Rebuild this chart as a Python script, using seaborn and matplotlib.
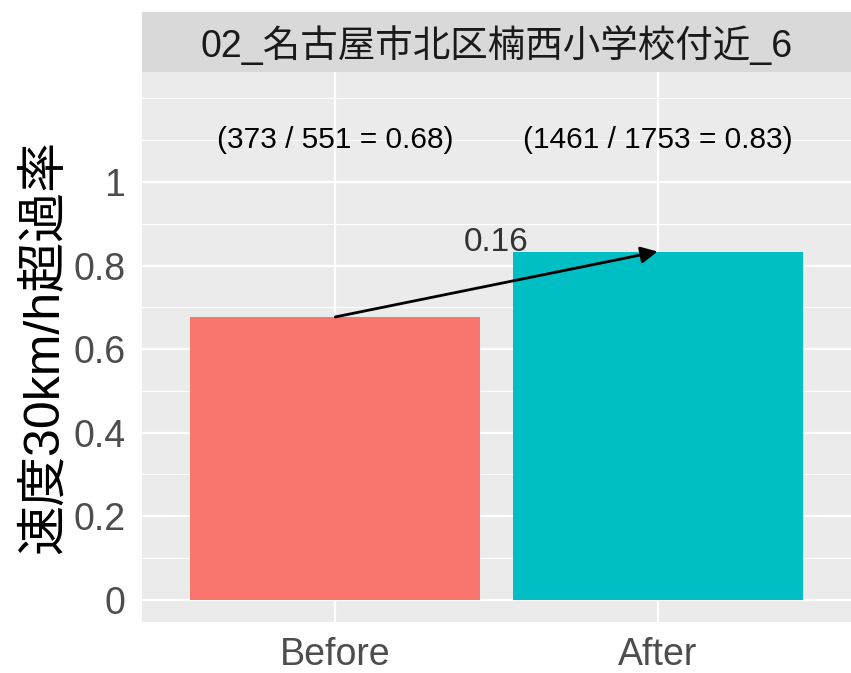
import seaborn as sns
import matplotlib.pyplot as plt
import pandas as pd
from matplotlib.ticker import MultipleLocator

# data
periods = ["Before", "After"]
over_counts = [373, 1461]
total_counts = [551, 1753]
bar_colors = ["#F8766D", "#00BFC4"]
facet_title = "02_名古屋市北区楠西小学校付近_6"
y_label = "速度30km/h超過率"
y_ticks = [0, 0.2, 0.4, 0.6, 0.8, 1.0]
y_tick_labels = ["0", "0.2", "0.4", "0.6", "0.8", "1"]

rates = [o / t for o, t in zip(over_counts, total_counts)]
df = pd.DataFrame({"period": periods, "rate": rates})

sns.set_theme(style="darkgrid")
plt.rcParams["font.family"] = ["Liberation Sans", "Noto Sans CJK JP", "DejaVu Sans"]

fig = plt.figure(figsize=(8.51, 6.73), dpi=100)
W, H = 851, 673
ax = fig.add_axes([142 / W, 1 - 622 / H, (851 - 142) / W, (622 - 72) / H])
strip = fig.add_axes([142 / W, 1 - 72 / H, (851 - 142) / W, 60 / H])

ax.set_facecolor("#EBEBEB")
sns.barplot(data=df, x="period", y="rate", hue="period", palette=bar_colors,
            width=0.9, saturation=1, legend=False, linewidth=0, ax=ax)

ax.set_xlim(-0.6, 1.6)
ax.set_ylim(-0.053, 1.263)

# gridlines like ggplot
ax.set_yticks(y_ticks)
ax.set_yticklabels(y_tick_labels)
ax.yaxis.set_minor_locator(MultipleLocator(0.1))
ax.grid(which="major", color="white", linewidth=1.6)
ax.grid(which="minor", axis="y", color="white", linewidth=0.8)
ax.set_axisbelow(True)
for s in ax.spines.values():
    s.set_visible(False)

ax.tick_params(axis="both", which="major", length=6, width=1.2, color="#333333",
               labelcolor="#4D4D4D", labelsize=27)
ax.tick_params(axis="x", which="major", pad=5)
ax.tick_params(axis="y", which="major", pad=6)
ax.tick_params(axis="y", which="minor", length=0)
ax.set_xlabel("")
ax.set_ylabel(y_label, fontsize=36, color="black", labelpad=4)

# count annotations
for i, (o, t, r) in enumerate(zip(over_counts, total_counts, rates)):
    ax.text(i, 1.1, f"({o} / {t} = {r:.2f})", ha="center", va="center",
            fontsize=21.5, color="black")

# arrow showing the change
ax.annotate("", xy=(1, rates[1]), xytext=(0, rates[0]),
            arrowprops=dict(arrowstyle="-|>", color="black", lw=2,
                            mutation_scale=25, shrinkA=0, shrinkB=0))
ax.text(0.5, 0.855, f"{rates[1] - rates[0]:.2f}", ha="center", va="center",
        fontsize=24, color="#333333")

# facet strip
strip.set_facecolor("#D9D9D9")
strip.set_xticks([])
strip.set_yticks([])
for s in strip.spines.values():
    s.set_visible(False)
strip.text(0.5, 0.45, facet_title, ha="center", va="center", fontsize=27,
           color="#1A1A1A", transform=strip.transAxes)

fig.savefig("out.png", dpi=100, facecolor="white")
